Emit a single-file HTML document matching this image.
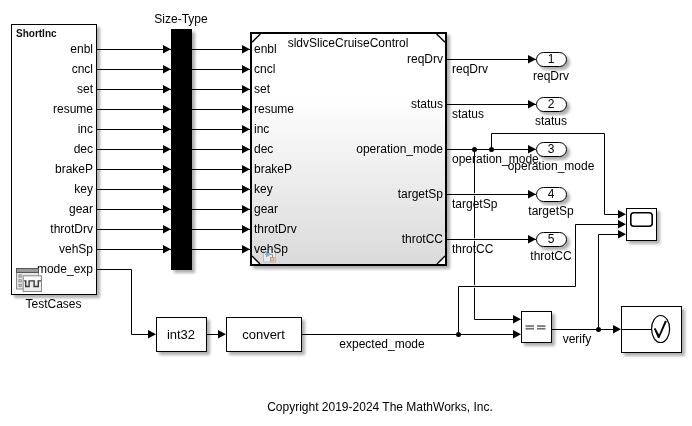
<!DOCTYPE html><html><head><meta charset="utf-8"><style>html,body{margin:0;padding:0;background:#fff;width:692px;height:426px;overflow:hidden}svg{display:block}text{font-family:"Liberation Sans",sans-serif;font-size:12px;fill:#000}</style></head><body>
<svg width="692" height="426" viewBox="0 0 692 426"><g style="will-change:transform">
<defs><filter id="sh" x="-20%" y="-20%" width="150%" height="150%"><feGaussianBlur in="SourceAlpha" stdDeviation="1.8"/><feOffset dx="2.5" dy="2.5" result="b"/><feComponentTransfer><feFuncA type="linear" slope="0.32"/></feComponentTransfer><feMerge><feMergeNode/><feMergeNode in="SourceGraphic"/></feMerge></filter><linearGradient id="g" x1="0" y1="0" x2="0" y2="1"><stop offset="0" stop-color="#ffffff"/><stop offset="0.27" stop-color="#ffffff"/><stop offset="1" stop-color="#dadada"/></linearGradient></defs>
<rect x="11.5" y="24.5" width="85" height="270" fill="#fff" stroke="#000" stroke-width="1" filter="url(#sh)"/>
<text x="16" y="37" style="font-size:10px;font-weight:bold;fill:#111">ShortInc</text>
<text x="93" y="53" text-anchor="end">enbl</text>
<text x="93" y="73" text-anchor="end">cncl</text>
<text x="93" y="93" text-anchor="end">set</text>
<text x="93" y="113" text-anchor="end">resume</text>
<text x="93" y="133" text-anchor="end">inc</text>
<text x="93" y="153" text-anchor="end">dec</text>
<text x="93" y="173" text-anchor="end">brakeP</text>
<text x="93" y="193" text-anchor="end">key</text>
<text x="93" y="213" text-anchor="end">gear</text>
<text x="93" y="233" text-anchor="end">throtDrv</text>
<text x="93" y="253" text-anchor="end">vehSp</text>
<text x="93" y="273" text-anchor="end">mode_exp</text>
<text x="53.5" y="308" text-anchor="middle">TestCases</text>
<g><rect x="16.5" y="268.5" width="22" height="20.5" fill="#e6e6e6" stroke="#8c8c8c"/><rect x="16.5" y="268.5" width="22" height="4" fill="#9a9a9a" stroke="#555"/><rect x="18.9" y="274.9" width="2.4" height="2.3" fill="#c8c8c8" stroke="#8a8a8a" stroke-width="0.8"/><rect x="18.9" y="279.6" width="2.4" height="2.3" fill="#c8c8c8" stroke="#8a8a8a" stroke-width="0.8"/><rect x="18.9" y="284.3" width="2.4" height="2.3" fill="#c8c8c8" stroke="#8a8a8a" stroke-width="0.8"/><rect x="23.2" y="275.8" width="18.3" height="15.7" fill="#ececec" stroke="#8c8c8c"/><rect x="24" y="276.8" width="16.6" height="3.6" fill="#fbfbfb"/><path d="M24.2,280.9 H25.7 V286.5 H29.1 V280.9 H34.1 V286.5 H38.3 V280.9 H41" fill="none" stroke="#3a3a3a" stroke-width="1.4"/></g>
<path d="M97.5,49.5 L170.5,49.5" fill="none" stroke="#000" stroke-width="1" stroke-linecap="square"/>
<path d="M171,49.3 L163,45 L163,53.5 Z" fill="#000"/>
<path d="M192.5,49.5 L249.5,49.5" fill="none" stroke="#000" stroke-width="1" stroke-linecap="square"/>
<path d="M250,49.3 L242,45 L242,53.5 Z" fill="#000"/>
<path d="M97.5,69.5 L170.5,69.5" fill="none" stroke="#000" stroke-width="1" stroke-linecap="square"/>
<path d="M171,69.3 L163,65 L163,73.5 Z" fill="#000"/>
<path d="M192.5,69.5 L249.5,69.5" fill="none" stroke="#000" stroke-width="1" stroke-linecap="square"/>
<path d="M250,69.3 L242,65 L242,73.5 Z" fill="#000"/>
<path d="M97.5,89.5 L170.5,89.5" fill="none" stroke="#000" stroke-width="1" stroke-linecap="square"/>
<path d="M171,89.3 L163,85 L163,93.5 Z" fill="#000"/>
<path d="M192.5,89.5 L249.5,89.5" fill="none" stroke="#000" stroke-width="1" stroke-linecap="square"/>
<path d="M250,89.3 L242,85 L242,93.5 Z" fill="#000"/>
<path d="M97.5,109.5 L170.5,109.5" fill="none" stroke="#000" stroke-width="1" stroke-linecap="square"/>
<path d="M171,109.3 L163,105 L163,113.5 Z" fill="#000"/>
<path d="M192.5,109.5 L249.5,109.5" fill="none" stroke="#000" stroke-width="1" stroke-linecap="square"/>
<path d="M250,109.3 L242,105 L242,113.5 Z" fill="#000"/>
<path d="M97.5,129.5 L170.5,129.5" fill="none" stroke="#000" stroke-width="1" stroke-linecap="square"/>
<path d="M171,129.3 L163,125 L163,133.5 Z" fill="#000"/>
<path d="M192.5,129.5 L249.5,129.5" fill="none" stroke="#000" stroke-width="1" stroke-linecap="square"/>
<path d="M250,129.3 L242,125 L242,133.5 Z" fill="#000"/>
<path d="M97.5,149.5 L170.5,149.5" fill="none" stroke="#000" stroke-width="1" stroke-linecap="square"/>
<path d="M171,149.3 L163,145 L163,153.5 Z" fill="#000"/>
<path d="M192.5,149.5 L249.5,149.5" fill="none" stroke="#000" stroke-width="1" stroke-linecap="square"/>
<path d="M250,149.3 L242,145 L242,153.5 Z" fill="#000"/>
<path d="M97.5,169.5 L170.5,169.5" fill="none" stroke="#000" stroke-width="1" stroke-linecap="square"/>
<path d="M171,169.3 L163,165 L163,173.5 Z" fill="#000"/>
<path d="M192.5,169.5 L249.5,169.5" fill="none" stroke="#000" stroke-width="1" stroke-linecap="square"/>
<path d="M250,169.3 L242,165 L242,173.5 Z" fill="#000"/>
<path d="M97.5,189.5 L170.5,189.5" fill="none" stroke="#000" stroke-width="1" stroke-linecap="square"/>
<path d="M171,189.3 L163,185 L163,193.5 Z" fill="#000"/>
<path d="M192.5,189.5 L249.5,189.5" fill="none" stroke="#000" stroke-width="1" stroke-linecap="square"/>
<path d="M250,189.3 L242,185 L242,193.5 Z" fill="#000"/>
<path d="M97.5,209.5 L170.5,209.5" fill="none" stroke="#000" stroke-width="1" stroke-linecap="square"/>
<path d="M171,209.3 L163,205 L163,213.5 Z" fill="#000"/>
<path d="M192.5,209.5 L249.5,209.5" fill="none" stroke="#000" stroke-width="1" stroke-linecap="square"/>
<path d="M250,209.3 L242,205 L242,213.5 Z" fill="#000"/>
<path d="M97.5,229.5 L170.5,229.5" fill="none" stroke="#000" stroke-width="1" stroke-linecap="square"/>
<path d="M171,229.3 L163,225 L163,233.5 Z" fill="#000"/>
<path d="M192.5,229.5 L249.5,229.5" fill="none" stroke="#000" stroke-width="1" stroke-linecap="square"/>
<path d="M250,229.3 L242,225 L242,233.5 Z" fill="#000"/>
<path d="M97.5,249.5 L170.5,249.5" fill="none" stroke="#000" stroke-width="1" stroke-linecap="square"/>
<path d="M171,249.3 L163,245 L163,253.5 Z" fill="#000"/>
<path d="M192.5,249.5 L249.5,249.5" fill="none" stroke="#000" stroke-width="1" stroke-linecap="square"/>
<path d="M250,249.3 L242,245 L242,253.5 Z" fill="#000"/>
<rect x="171" y="29" width="21" height="241" fill="#000" filter="url(#sh)"/>
<text x="181" y="23" text-anchor="middle">Size-Type</text>
<g filter="url(#sh)"><rect x="251" y="33" width="195" height="232" fill="url(#g)" stroke="#000" stroke-width="2"/></g>
<path d="M252,34 H260.3 L252,42.3 Z" fill="#fff"/><path d="M252,42.3 L260.3,34" stroke="#000" stroke-width="1.4"/>
<path d="M445,34 H436.7 L445,42.3 Z" fill="#fff"/><path d="M445,42.3 L436.7,34" stroke="#000" stroke-width="1.4"/>
<path d="M252,264 H260 L252,256 Z" fill="#fff"/><path d="M252,256 L260,264" stroke="#000" stroke-width="1.4"/>
<path d="M445,264 H437 L445,256 Z" fill="#fff"/><path d="M445,256 L437,264" stroke="#000" stroke-width="1.4"/>
<rect x="263.5" y="249.5" width="12" height="12.5" fill="#ececec" stroke="#bdbdbd"/><path d="M265,254.5 H272.5 V257.5" fill="none" stroke="#777" stroke-width="0.8"/><path d="M266,251 L271.5,254.2 L266,257.4 Z" fill="#7ab3e0"/><rect x="270.5" y="257.5" width="3.5" height="3.5" fill="#f2c29a" stroke="#d08a6a" stroke-width="0.8"/>
<text x="254" y="53" text-anchor="start">enbl</text>
<text x="254" y="73" text-anchor="start">cncl</text>
<text x="254" y="93" text-anchor="start">set</text>
<text x="254" y="113" text-anchor="start">resume</text>
<text x="254" y="133" text-anchor="start">inc</text>
<text x="254" y="153" text-anchor="start">dec</text>
<text x="254" y="173" text-anchor="start">brakeP</text>
<text x="254" y="193" text-anchor="start">key</text>
<text x="254" y="213" text-anchor="start">gear</text>
<text x="254" y="233" text-anchor="start">throtDrv</text>
<text x="254" y="253" text-anchor="start">vehSp</text>
<text x="348" y="47" text-anchor="middle">sldvSliceCruiseControl</text>
<text x="443" y="63" text-anchor="end">reqDrv</text>
<text x="443" y="108" text-anchor="end">status</text>
<text x="443" y="153" text-anchor="end">operation_mode</text>
<text x="443" y="198" text-anchor="end">targetSp</text>
<text x="443" y="243" text-anchor="end">throtCC</text>
<path d="M447.5,59.5 L535.5,59.5" fill="none" stroke="#000" stroke-width="1" stroke-linecap="square"/>
<path d="M536,59.3 L528,55 L528,63.5 Z" fill="#000"/>
<rect x="536.5" y="52.5" width="30" height="14" rx="7" ry="7" fill="#fff" stroke="#000" filter="url(#sh)"/>
<text x="551" y="62.5" text-anchor="middle">1</text>
<text x="452" y="73" text-anchor="start">reqDrv</text>
<text x="551" y="80" text-anchor="middle">reqDrv</text>
<path d="M447.5,104.5 L535.5,104.5" fill="none" stroke="#000" stroke-width="1" stroke-linecap="square"/>
<path d="M536,104.3 L528,100 L528,108.5 Z" fill="#000"/>
<rect x="536.5" y="97.5" width="30" height="14" rx="7" ry="7" fill="#fff" stroke="#000" filter="url(#sh)"/>
<text x="551" y="107.5" text-anchor="middle">2</text>
<text x="452" y="118" text-anchor="start">status</text>
<text x="551" y="125" text-anchor="middle">status</text>
<path d="M447.5,149.5 L535.5,149.5" fill="none" stroke="#000" stroke-width="1" stroke-linecap="square"/>
<path d="M536,149.3 L528,145 L528,153.5 Z" fill="#000"/>
<rect x="536.5" y="142.5" width="30" height="14" rx="7" ry="7" fill="#fff" stroke="#000" filter="url(#sh)"/>
<text x="551" y="152.5" text-anchor="middle">3</text>
<text x="452" y="163" text-anchor="start">operation_mode</text>
<text x="551" y="170" text-anchor="middle">operation_mode</text>
<path d="M447.5,194.5 L535.5,194.5" fill="none" stroke="#000" stroke-width="1" stroke-linecap="square"/>
<path d="M536,194.3 L528,190 L528,198.5 Z" fill="#000"/>
<rect x="536.5" y="187.5" width="30" height="14" rx="7" ry="7" fill="#fff" stroke="#000" filter="url(#sh)"/>
<text x="551" y="197.5" text-anchor="middle">4</text>
<text x="452" y="208" text-anchor="start">targetSp</text>
<text x="551" y="215" text-anchor="middle">targetSp</text>
<path d="M447.5,239.5 L535.5,239.5" fill="none" stroke="#000" stroke-width="1" stroke-linecap="square"/>
<path d="M536,239.3 L528,235 L528,243.5 Z" fill="#000"/>
<rect x="536.5" y="232.5" width="30" height="14" rx="7" ry="7" fill="#fff" stroke="#000" filter="url(#sh)"/>
<text x="551" y="242.5" text-anchor="middle">5</text>
<text x="452" y="253" text-anchor="start">throtCC</text>
<text x="551" y="260" text-anchor="middle">throtCC</text>
<circle cx="474.5" cy="149.5" r="2.5" fill="#000"/>
<circle cx="491.5" cy="149.5" r="2.5" fill="#000"/>
<path d="M491.5,149.5 L491.5,133.5 L604.5,133.5 L604.5,214.5 L618.5,214.5" fill="none" stroke="#000" stroke-width="1" stroke-linecap="square"/>
<path d="M626,214.3 L618,210 L618,218.5 Z" fill="#000"/>
<path d="M474.5,149.5 L474.5,319.5 L513.5,319.5" fill="none" stroke="#000" stroke-width="1" stroke-linecap="square"/>
<path d="M521,319.3 L513,315 L513,323.5 Z" fill="#000"/>
<path d="M97.5,269.5 L131.5,269.5 L131.5,334.5 L148.5,334.5" fill="none" stroke="#000" stroke-width="1" stroke-linecap="square"/>
<path d="M156,334.3 L148,330 L148,338.5 Z" fill="#000"/>
<rect x="156.5" y="317.5" width="50" height="34" fill="#fff" stroke="#000" stroke-width="1" filter="url(#sh)"/>
<text x="181" y="338.5" text-anchor="middle" style="font-size:13px">int32</text>
<path d="M207.5,334.5 L218.5,334.5" fill="none" stroke="#000" stroke-width="1" stroke-linecap="square"/>
<path d="M226,334.3 L218,330 L218,338.5 Z" fill="#000"/>
<rect x="226.5" y="317.5" width="75" height="34" fill="#fff" stroke="#000" stroke-width="1" filter="url(#sh)"/>
<text x="263.5" y="338.5" text-anchor="middle" style="font-size:13px">convert</text>
<path d="M302.5,334.5 L513.5,334.5" fill="none" stroke="#000" stroke-width="1" stroke-linecap="square"/>
<path d="M521,334.3 L513,330 L513,338.5 Z" fill="#000"/>
<text x="382" y="348" text-anchor="middle">expected_mode</text>
<circle cx="458.5" cy="334.5" r="2.5" fill="#000"/>
<path d="M458.5,334.5 L458.5,286.5 L575.5,286.5 L575.5,224.5 L618.5,224.5" fill="none" stroke="#000" stroke-width="1" stroke-linecap="square"/>
<path d="M626,224.3 L618,220 L618,228.5 Z" fill="#000"/>
<rect x="521.5" y="311.5" width="30" height="31" fill="#fff" stroke="#000" stroke-width="1" filter="url(#sh)"/>
<g fill="#727272"><rect x="525.5" y="325.2" width="8.5" height="1.7"/><rect x="525.5" y="327.9" width="8.5" height="1.7"/><rect x="537" y="325.2" width="8.5" height="1.7"/><rect x="537" y="327.9" width="8.5" height="1.7"/></g>
<path d="M552.5,329.5 L613.5,329.5" fill="none" stroke="#000" stroke-width="1" stroke-linecap="square"/>
<path d="M621,329.3 L613,325 L613,333.5 Z" fill="#000"/>
<circle cx="598.5" cy="329.5" r="2.5" fill="#000"/>
<path d="M598.5,329.5 L598.5,234.5 L618.5,234.5" fill="none" stroke="#000" stroke-width="1" stroke-linecap="square"/>
<path d="M626,234.3 L618,230 L618,238.5 Z" fill="#000"/>
<text x="577" y="343" text-anchor="middle">verify</text>
<rect x="626.5" y="208.5" width="30" height="32" fill="#fff" stroke="#000" stroke-width="1" filter="url(#sh)"/>
<rect x="630.8" y="212.8" width="21.4" height="13.4" rx="3" ry="3" fill="#fff" stroke="#000" stroke-width="1.6"/>
<rect x="621.5" y="306.5" width="60" height="46" fill="#fff" stroke="#000" stroke-width="1" filter="url(#sh)"/>
<path d="M622.5,329.5 L651.5,329.5" fill="none" stroke="#000" stroke-width="1" stroke-linecap="square"/>
<ellipse cx="660.6" cy="329" rx="9" ry="13.5" fill="none" stroke="#000" stroke-width="1.2"/>
<path d="M653.9,328.8 L655.4,328.1 L659.0,334.6 L665.0,320.4 L666.8,321.4 L659.4,337.9 L657.9,337.9 Z" fill="#000"/>
<rect x="474" y="193" width="1" height="1" fill="#fff" fill-opacity="0.85"/><rect x="474" y="195" width="1" height="1" fill="#fff" fill-opacity="0.85"/>
<rect x="474" y="238" width="1" height="1" fill="#fff" fill-opacity="0.85"/><rect x="474" y="240" width="1" height="1" fill="#fff" fill-opacity="0.85"/>
<rect x="474" y="285" width="1" height="1" fill="#fff" fill-opacity="0.85"/><rect x="474" y="287" width="1" height="1" fill="#fff" fill-opacity="0.85"/>
<text x="380" y="411" text-anchor="middle">Copyright 2019-2024 The MathWorks, Inc.</text>
</g></svg></body></html>
